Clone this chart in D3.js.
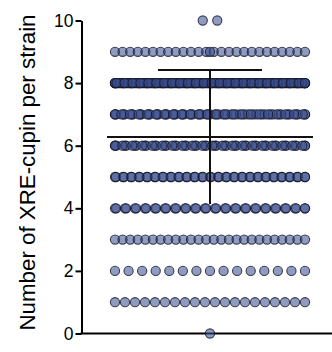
<!DOCTYPE html>
<html><head><meta charset="utf-8">
<script src="https://cdn.jsdelivr.net/npm/d3@7"></script>
<style>html,body{margin:0;padding:0;background:#fff;}svg{display:block;font-family:"Liberation Sans",Arial,sans-serif;}</style>
</head><body>
<script>
// values
const xreValues = [0, 1, 2, 3, 4, 5, 6, 7, 8, 9, 10];
const strainCounts = [1, 20, 15, 26, 40, 50, 60, 70, 175, 27, 2];
const yTickValues = [0, 2, 4, 6, 8, 10];
const yLabel = "Number of XRE-cupin per strain";

const W = 332, H = 352;
const svg = d3.select("body").append("svg").attr("width", W).attr("height", H);

const y = d3.scaleLinear().domain([0, 10]).range([333.5, 20.5]);
const x = d3.scaleLinear().domain([-1, 1]).range([105, 315]); // column centred at 210
const cx0 = x(0);

// summary statistics (mean ± SD) from the counts
const N = d3.sum(strainCounts);
const meanValue = d3.sum(xreValues, (v, i) => v * strainCounts[i]) / N;
const sdValue = Math.sqrt(d3.sum(xreValues, (v, i) => strainCounts[i] * (v - meanValue) ** 2) / (N - 1));

// y axis
const yAxis = d3.axisLeft(y).tickValues(yTickValues).tickSize(6).tickPadding(2).tickSizeOuter(0);
const gy = svg.append("g").attr("transform", "translate(81.5,0)").call(yAxis);
gy.select(".domain").attr("stroke", "#000").attr("stroke-width", 2);
gy.selectAll(".tick line").attr("stroke", "#000").attr("stroke-width", 2);
gy.selectAll(".tick text").attr("font-size", 17.5).attr("fill", "#000")
  .attr("font-family", "Liberation Sans, Arial, sans-serif");

// x axis line
svg.append("line").attr("x1", 80.5).attr("x2", W).attr("y1", y(0)).attr("y2", y(0))
  .attr("stroke", "#000").attr("stroke-width", 2);

// y label
svg.append("text").attr("transform", `translate(35,${(8+337)/2}) rotate(-90)`)
  .attr("text-anchor", "middle").attr("font-size", 22.3).attr("fill", "#000").text(yLabel);

// point layout (scatter dot plot, spread horizontally within a column)
const span = 190, slot = 26;
const pts = [];
xreValues.forEach((v, i) => {
  const n = strainCounts[i];
  if (n === 1) { pts.push({v, x: cx0}); return; }
  if (n <= slot + 2) {
    const base = Math.min(n, slot);
    const sp = Math.min(14.5, span / (base - 1));
    const w = sp * (base - 1);
    for (let k = 0; k < base; k++) pts.push({v, x: cx0 - w / 2 + k * sp});
    for (let k = base; k < n; k++) pts.push({v, x: cx0 + (k - base - (n - base - 1) / 2) * 4});
    return;
  }
  const P = Math.ceil(n / slot);
  let left = n;
  for (let p = 0; p < P; p++) {
    const m = Math.round(left / (P - p));
    left -= m;
    const s = span / (m - 1);
    const phase = p === 0 ? 0 : (((p * 0.618) % 1) - 0.5) * s;
    for (let k = 0; k < m; k++) {
      let px = cx0 - span / 2 + k * s + phase;
      px = Math.max(cx0 - span / 2, Math.min(cx0 + span / 2, px));
      pts.push({v, x: px});
    }
  }
});

svg.append("g").selectAll("circle").data(pts).join("circle")
  .attr("cx", d => d.x).attr("cy", d => y(d.v)).attr("r", 4.6)
  .attr("fill", "rgb(60,80,145)").attr("fill-opacity", 0.57)
  .attr("stroke", "#15182a").attr("stroke-opacity", 0.8).attr("stroke-width", 1.1);

// mean and SD
svg.append("line").attr("x1", 107).attr("x2", 313).attr("y1", y(meanValue)).attr("y2", y(meanValue))
  .attr("stroke", "#111").attr("stroke-width", 2);
svg.append("line").attr("x1", cx0).attr("x2", cx0).attr("y1", y(meanValue - sdValue)).attr("y2", y(meanValue + sdValue))
  .attr("stroke", "#111").attr("stroke-width", 2);
svg.append("line").attr("x1", cx0 - 52).attr("x2", cx0 + 52).attr("y1", y(meanValue + sdValue)).attr("y2", y(meanValue + sdValue))
  .attr("stroke", "#111").attr("stroke-width", 2);
</script>
</body></html>
